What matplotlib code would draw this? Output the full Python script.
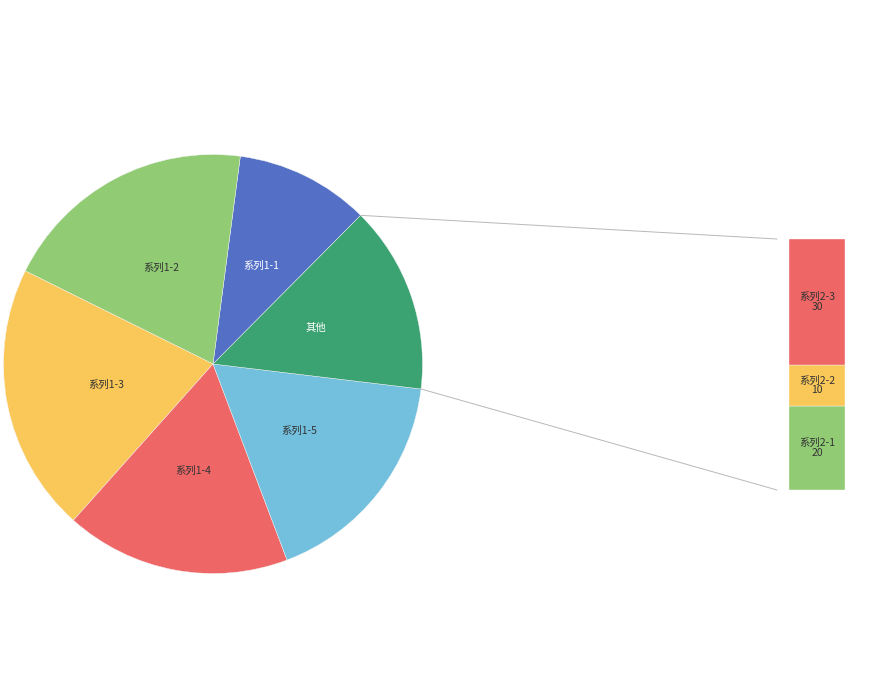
import matplotlib
matplotlib.use("Agg")
import matplotlib.pyplot as plt
from matplotlib.patches import ConnectionPatch
import numpy as np

plt.rcParams['font.family'] = ['Noto Sans CJK SC', 'DejaVu Sans']

pie_labels = ['系列1-1', '系列1-2', '系列1-3', '系列1-4', '系列1-5', '其他']
pie_values = [43, 82, 86, 72, 72, 60]
pie_colors = ['#5470c6', '#91cc75', '#fac858', '#ee6666', '#73c0de', '#3ba272']
pie_text_colors = ['white', '#333333', '#333333', '#333333', '#333333', 'white']

bar_labels = ['系列2-1', '系列2-2', '系列2-3']
bar_values = [20, 10, 30]
bar_colors = ['#91cc75', '#fac858', '#ee6666']

W, H = 884, 686
fig = plt.figure(figsize=(W / 100, H / 100), dpi=100)
ax = fig.add_axes([0, 0, 1, 1])

cx, cy, R = 213, H - 364, 209.5
start = 45.2
wedges, texts = ax.pie(pie_values, colors=pie_colors, labels=pie_labels,
                       labeldistance=0.52, startangle=start, counterclock=True,
                       center=(cx, cy), radius=R, frame=True,
                       wedgeprops=dict(linewidth=0.3, edgecolor='#f4f4f4'),
                       textprops=dict(fontsize=7.5))
for t, c in zip(texts, pie_text_colors):
    t.set_color(c)
    t.set_ha('center')
    t.set_va('center')
ax.set_xlim(0, W)
ax.set_ylim(0, H)
ax.set_aspect('equal')
ax.axis('off')

# bar axes
bx0, bx1, by0, by1 = 789, 845, 239, 490
bax = fig.add_axes([bx0 / W, (H - by1) / H, (bx1 - bx0) / W, (by1 - by0) / H])
bottom = 0
for lab, v, c in zip(bar_labels, bar_values, bar_colors):
    bax.bar(0, v, bottom=bottom, width=1, color=c, edgecolor='#f4f4f4', linewidth=0.3)
    bax.text(0, bottom + v / 2, f'{lab}\n{v}', ha='center', va='center',
             fontsize=7.5, color='#333333', linespacing=1.0)
    bottom += v
bax.set_xlim(-0.5, 0.5)
bax.set_ylim(0, sum(bar_values))
bax.axis('off')

# connecting lines from the "其他" wedge edges
w = wedges[-1]
gap = 12 / (bx1 - bx0)
for ang, yb in [(w.theta2, sum(bar_values)), (w.theta1, 0)]:
    a = np.deg2rad(ang)
    p = (cx + R * np.cos(a), cy + R * np.sin(a))
    con = ConnectionPatch(xyA=p, coordsA=ax.transData,
                          xyB=(-0.5 - gap, yb), coordsB=bax.transData,
                          color='#b8b8b8', linewidth=0.7)
    fig.add_artist(con)

fig.savefig('out.png', dpi=100)
